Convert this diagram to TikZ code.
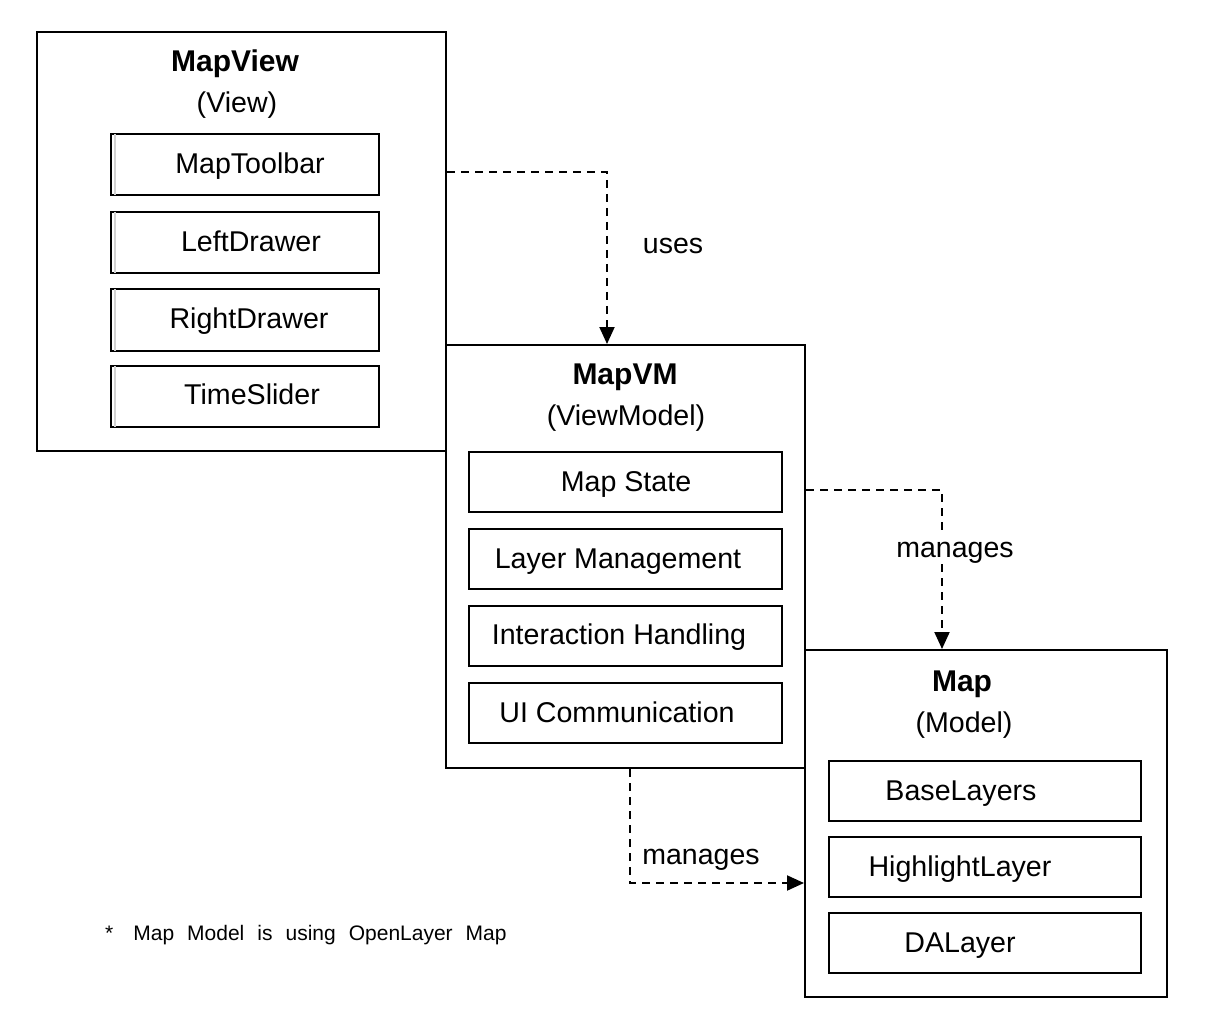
\documentclass[tikz,border=0pt]{standalone}
\usepackage{fontspec}
\setmainfont{Liberation Sans}
\usetikzlibrary{arrows.meta,calc}
\begin{document}
\begin{tikzpicture}[x=1pt,y=-1pt,
  outerbox/.style={draw=black,line width=2pt,inner sep=0pt},
  innerbox/.style={draw=black,line width=2pt,inner sep=0pt},
  txt/.style={inner sep=0pt,font=\fontsize{28.6}{33}\selectfont,text height=20.5pt,text depth=0pt},
  ttl/.style={inner sep=0pt,font=\fontsize{30}{35}\selectfont\bfseries,text height=21.5pt,text depth=0pt},
  lbl/.style={inner sep=0pt,font=\fontsize{28.5}{33}\selectfont,text height=20.4pt,text depth=0pt},
  dep/.style={line width=2pt,dash pattern=on 8pt off 6pt,-{Triangle[length=17pt,width=15pt]}}
]
\useasboundingbox (0,0) rectangle (1207,1024);
\fill[white] (0,0) rectangle (1207,1024);

% outer boxes
\node[outerbox,minimum width=409pt,minimum height=419pt] (mapview) at (241.5,241.5) {};
\node[outerbox,minimum width=359pt,minimum height=423pt,fill=white] (mapvm) at (625.5,556.5) {};
\node[outerbox,minimum width=362pt,minimum height=347pt,fill=white] (map) at (986,823.5) {};

% titles
\node[ttl] (mapviewT) at (235,61) {MapView};
\node[txt] (mapviewS) at (237,102) {(View)};
\node[ttl] (mapvmT) at (625,374) {MapVM};
\node[txt] (mapvmS) at (626,415) {(ViewModel)};
\node[ttl] (mapT) at (962,681) {Map};
\node[txt] (mapS) at (964,722) {(Model)};

% MapView inner boxes
\foreach \n/\y in {toolbar/165,leftd/242.5,rightd/320,slider/396.5}{
  \node[innerbox,minimum width=268pt,minimum height=61pt] (\n) at (245,\y) {};
  \draw[gray!35,line width=1.2pt] ($(\n.north west)+(5,1)$) -- ($(\n.south west)+(5,-1)$);
}
\node[txt] (toolbarT) at (250,163) {MapToolbar};
\node[txt] (leftdT) at (251,241) {LeftDrawer};
\node[txt] (rightdT) at (249,318) {RightDrawer};
\node[txt] (sliderT) at (252,394) {TimeSlider};

% MapVM inner boxes
\foreach \n/\y in {state/482,layerm/559,inter/635.5,uicom/713}{
  \node[innerbox,minimum width=313pt,minimum height=60pt] (\n) at (625.5,\y) {};
}
\node[txt] (stateT) at (626,481) {Map State};
\node[txt] (layermT) at (618,558) {Layer Management};
\node[txt] (interT) at (619,634) {Interaction Handling};
\node[txt] (uicomT) at (617,712) {UI Communication};

% Map inner boxes
\foreach \n/\y in {base/791,high/867,dal/943}{
  \node[innerbox,minimum width=312pt,minimum height=60pt] (\n) at (985,\y) {};
}
\node[txt] (baseT) at (961,790) {BaseLayers};
\node[txt] (highT) at (960,866) {HighlightLayer};
\node[txt] (dalT) at (960,942) {DALayer};

% connectors
\draw[dep] (mapview.east |- 0,172) -| (mapvm.north -| 607,0);
\node[lbl] (usesL) at (673,243) {uses};
\draw[dep] (mapvm.east |- 0,490) -| (map.north -| 942,0);
\node[lbl,fill=white,inner sep=2pt] (manL1) at (955,547) {manages};
\draw[dep] (mapvm.south -| 630,0) |- (map.west |- 0,883);
\node[lbl] (manL2) at (701,854) {manages};

% footnote
\node[anchor=west,inner sep=0pt,font=\fontsize{21}{25}\selectfont,text height=15pt,text depth=0pt] (note) at (105,933)
  {\spaceskip=0.62em\relax *\hspace{20pt}Map Model is using OpenLayer Map};
\end{tikzpicture}
\end{document}
